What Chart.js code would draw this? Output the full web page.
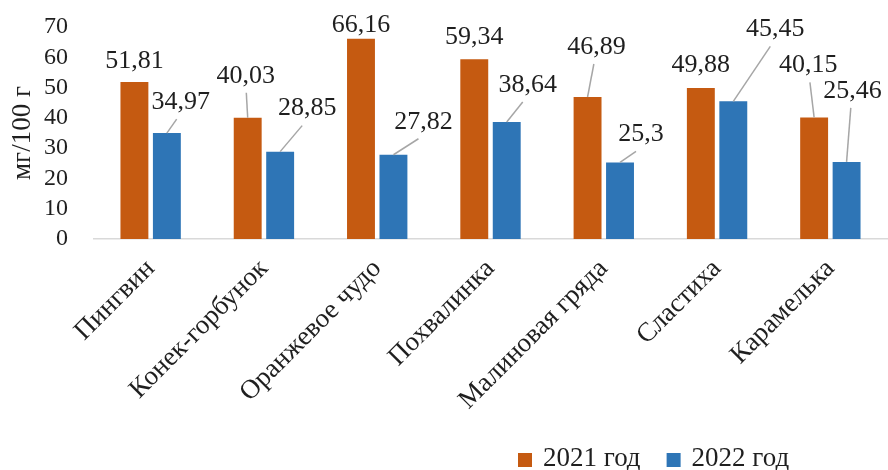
<!DOCTYPE html>
<html><head><meta charset="utf-8">
<script src="https://cdn.jsdelivr.net/npm/chart.js@4.4.0/dist/chart.umd.min.js"></script>
<style>html,body{margin:0;padding:0;background:#fff;} #wrap{width:888px;height:470px;}</style>
</head><body><div id="wrap"><canvas id="c" width="888" height="470"></canvas></div>
<script>
const categories = ['Пингвин','Конек-горбунок','Оранжевое чудо','Похвалинка','Малиновая гряда','Сластиха','Карамелька'];
const values2021 = [51.81,40.03,66.16,59.34,46.89,49.88,40.15];
const values2022 = [34.97,28.85,27.82,38.64,25.3,45.45,25.46];
const seriesNames = ['2021 год','2022 год'];
const yTicks = [0,10,20,30,40,50,60,70];
const yTitle = 'мг/100 г';
// label placement (px, relative to bar top): [dx, dy, leader line]
const labelPos2021 = [[0,-21,0],[-2,-42,1],[0,-13,0],[0,-22,0],[9,-50,1],[0,-23,0],[-6,-52,1]];
const labelPos2022 = [[14,-31,1],[27,-43,1],[30,-33,1],[21,-37,1],[21,-28,1],[42,-72,1],[6,-71,1]];

const FONT = 'Liberation Serif';
const TEXT = '#1f1f1f';

const labelPlugin = {
  id: 'valueLabels',
  afterDatasetsDraw(chart) {
    const ctx = chart.ctx;
    const pos = [labelPos2021, labelPos2022];
    ctx.save();
    ctx.font = '26px "' + FONT + '"';
    ctx.textAlign = 'center';
    ctx.textBaseline = 'middle';
    chart.data.datasets.forEach((ds, di) => {
      const meta = chart.getDatasetMeta(di);
      meta.data.forEach((bar, i) => {
        const [dx, dy, lead] = pos[di][i];
        const cx = bar.x + dx, cy = bar.y + dy;
        const txt = String(ds.data[i]).replace('.', ',');
        if (lead) {
          const ex = cx - Math.sign(dx) * Math.min(5, Math.abs(dx) * 0.3);
          ctx.beginPath();
          ctx.strokeStyle = '#a6a6a6';
          ctx.lineWidth = 1.5;
          ctx.moveTo(bar.x, bar.y);
          ctx.lineTo(ex, cy + 17);
          ctx.stroke();
        }
        ctx.fillStyle = TEXT;
        ctx.fillText(txt, cx, cy);
      });
    });
    ctx.restore();
  }
};

const legendPlugin = {
  id: 'bottomLegend',
  afterDraw(chart) {
    const ctx = chart.ctx;
    ctx.save();
    ctx.font = '27px "' + FONT + '"';
    ctx.textBaseline = 'middle';
    ctx.textAlign = 'left';
    let x = 518;
    const y = 459, box = 14;
    chart.data.datasets.forEach(ds => {
      ctx.fillStyle = ds.backgroundColor;
      ctx.fillRect(x, y - box / 2 + 1, box, box);
      x += box + 11;
      ctx.fillStyle = TEXT;
      ctx.fillText(ds.label, x, y);
      x += ctx.measureText(ds.label).width + 26;
    });
    ctx.restore();
  }
};

new Chart(document.getElementById('c'), {
  type: 'bar',
  data: {
    labels: categories,
    datasets: [
      { label: seriesNames[0], data: values2021, backgroundColor: '#C55A11', categoryPercentage: 0.573, barPercentage: 0.86 },
      { label: seriesNames[1], data: values2022, backgroundColor: '#2E75B6', categoryPercentage: 0.573, barPercentage: 0.86 }
    ]
  },
  options: {
    responsive: false,
    animation: false,
    layout: { padding: { top: 27, right: 1, left: 0, bottom: 0 } },
    plugins: { legend: { display: false }, tooltip: { enabled: false } },
    scales: {
      x: {
        grid: { display: false },
        border: { display: true, color: '#d9d9d9', width: 1.5 },
        ticks: { autoSkip: false, minRotation: 45, maxRotation: 45, padding: 6, color: TEXT,
                 font: { family: FONT, size: 27 } },
        afterFit(s) { s.height = 231; s.paddingLeft = 0; s.paddingRight = 0; s.paddingTop = 0; s.paddingBottom = 0; }
      },
      y: {
        min: 0, max: 70,
        afterBuildTicks(s) { s.ticks = yTicks.map(v => ({ value: v })); },
        grid: { display: false },
        border: { display: false },
        ticks: { autoSkip: false, stepSize: 10, padding: 18, color: TEXT, font: { family: FONT, size: 24 }, callback: v => String(v) },
        title: { display: true, text: yTitle, color: TEXT, font: { family: FONT, size: 27 }, padding: { top: 7, bottom: 0 } },
        afterFit(s) { s.width = 94; s.paddingTop = 0; s.paddingBottom = 0; s.paddingLeft = 0; s.paddingRight = 0; }
      }
    }
  },
  plugins: [labelPlugin, legendPlugin]
});
</script>
</body></html>
